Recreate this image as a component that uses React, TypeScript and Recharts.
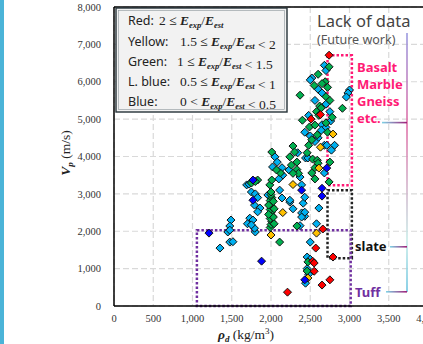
import React from "react";
import {
  ScatterChart,
  Scatter,
  XAxis,
  YAxis,
  CartesianGrid,
  ReferenceArea,
  ReferenceLine,
} from "recharts";

// axis ticks
const xTicks = [0, 500, 1000, 1500, 2000, 2500, 3000, 3500, 4000];
const yTicks = [0, 1000, 2000, 3000, 4000, 5000, 6000, 7000, 8000];

// [rho_d (kg/m3), Vp (m/s)], grouped by Eexp/Eest class
const redPoints = [
  [2210, 370], [2650, 560], [2750, 700], [2530, 1200], [2550, 1150],
  [2550, 930], [2570, 1550], [2790, 1310], [2660, 2060], [2510, 5000],
  [2630, 5120], [2740, 6710],
];

const yellowPoints = [
  [2000, 1900], [2580, 1950], [2470, 750], [2150, 2500], [2280, 3250],
  [2610, 3690], [2630, 4250], [2790, 4600],
];

const greenPoints = [
  [2110, 1710], [2470, 1180], [2460, 935], [2330, 2140],
  [1990, 2100], [2000, 2180], [2010, 2260], [1990, 2340], [2010, 2420],
  [2000, 2500], [1990, 2580], [2010, 2660], [2000, 2740], [1990, 2820],
  [2010, 2900], [2000, 2980], [2000, 3050], [1985, 3240], [2010, 3370],
  [2120, 3560], [2070, 3640], [2010, 4120], [2040, 2200], [2030, 2380],
  [2040, 2600], [2030, 2800], [1970, 2450], [1970, 2700],
  [1830, 3370], [1750, 3290], [1800, 3330], [2280, 4280], [2300, 4120],
  [2240, 3990], [2330, 3850], [2260, 3770], [2330, 3650], [2350, 3550],
  [2280, 3550], [2530, 3930], [2590, 3900], [2520, 3560], [2560, 3700],
  [2750, 3850], [2740, 3320], [2600, 3820], [2560, 3400],
  [2400, 4970], [2490, 4790], [2560, 4840], [2590, 4580], [2520, 4450],
  [2580, 5200], [2620, 5350], [2370, 5640], [2740, 6400], [2690, 6000],
  [2720, 5850], [2650, 5950], [2600, 6200], [2700, 5600], [2750, 5500],
  [2610, 5100], [2910, 5290], [2780, 5050], [2550, 5900], [2640, 5300],
  [2480, 4300], [2460, 4100], [2700, 4900], [2720, 4650],
];

const lightBluePoints = [
  [1350, 1550], [1475, 1710], [1515, 1720], [1450, 1980], [1800, 1980],
  [2500, 1710], [2460, 1310], [2500, 1250], [2440, 610], [2460, 1000],
  [2480, 850], [1490, 2300], [1475, 2140], [1475, 2030], [1730, 2350],
  [1770, 2300], [1790, 2080], [1700, 2200], [1750, 2170], [1690, 3240],
  [1720, 3260], [1750, 3050], [1800, 3000], [1790, 2700], [1860, 2620],
  [1830, 2900], [1830, 2520], [1960, 2970], [2050, 3990], [2080, 3850],
  [2020, 3720], [2140, 3700], [2110, 3100], [2140, 2890], [2240, 2780],
  [2280, 2600], [2240, 2830], [2390, 2490], [2430, 2400], [2410, 2750],
  [2430, 2510], [2390, 2380], [2370, 2150], [2610, 2620], [2580, 2200],
  [2390, 3240], [2430, 2910], [2230, 3640], [2370, 3450], [2340, 4100],
  [2440, 3960], [2470, 3960], [2680, 3560], [2150, 3500], [2100, 3400],
  [2480, 5100], [2430, 4650], [2500, 4550], [2600, 4500], [2680, 4300],
  [2710, 4300], [2810, 4300], [2770, 4170], [2650, 4850], [2700, 4780],
  [2640, 4700], [2520, 6100], [2500, 6050], [2680, 6440], [2700, 6300],
  [2600, 5800], [2650, 5700], [2560, 5500], [2700, 5400], [2750, 5200],
  [3000, 5780], [2980, 5700], [2960, 5590], [2760, 4950], [2560, 4400],
];

const bluePoints = [
  [1210, 1950], [1880, 1200], [2430, 700], [1770, 3370], [1770, 2830],
  [2390, 3100], [2650, 3150], [2650, 2940], [2710, 3690],
];

const toRows = (pts: number[][]) => pts.map(([x, y]) => ({ x, y }));

const fmt = (v: number) => v.toLocaleString("en-US");

const diamond = (fill: string) => (props: any) => {
  const { cx, cy } = props;
  if (cx == null || cy == null) return <g />;
  const r = 4;
  return (
    <polygon
      points={`${cx},${cy - r} ${cx + r},${cy} ${cx},${cy + r} ${cx - r},${cy}`}
      fill={fill}
      stroke="#111"
      strokeWidth={1}
    />
  );
};

const tickStyle = { fontFamily: "Liberation Serif", fontSize: 10.5, fill: "#333" };

// E_exp / E_est in serif bold italic
const Ratio = () => (
  <>
    <tspan fontWeight="bold" fontStyle="italic">E</tspan>
    <tspan fontWeight="bold" fontStyle="italic" fontSize={8.5} dy={3}>exp</tspan>
    <tspan dy={-3}>/</tspan>
    <tspan fontWeight="bold" fontStyle="italic">E</tspan>
    <tspan fontWeight="bold" fontStyle="italic" fontSize={8.5} dy={3}>est</tspan>
    <tspan dy={-3}></tspan>
  </>
);

const sans = "Noto Sans";
const serif = "Liberation Serif";

export default function App() {
  return (
    <div
      style={{
        position: "absolute",
        left: 0,
        top: 0,
        width: 423,
        height: 344,
        overflow: "hidden",
        background: "#fff",
      }}
    >
      <div style={{ position: "absolute", left: 0, top: 0, width: 4, height: 344, background: "#4bb4d8" }} />
      <div style={{ position: "absolute", left: 0, top: 0 }}>
        <ScatterChart width={440} height={344} margin={{ top: 7, right: 12, left: 0, bottom: 8 }}>
          <CartesianGrid stroke="#d9d9d9" strokeDasharray="6 3" strokeWidth={1.2} />
          <XAxis
            type="number"
            dataKey="x"
            domain={[0, 4000]}
            ticks={xTicks}
            tickFormatter={fmt}
            tick={tickStyle}
            tickLine={false}
            tickSize={0}
            tickMargin={9}
            height={30}
            axisLine={{ stroke: "#000", strokeWidth: 1.5 }}
            interval={0}
          />
          <YAxis
            type="number"
            dataKey="y"
            domain={[0, 8000]}
            ticks={yTicks}
            tickFormatter={fmt}
            tick={tickStyle}
            tickLine={false}
            tickSize={0}
            tickMargin={13}
            width={114}
            axisLine={{ stroke: "#000", strokeWidth: 1.5 }}
            interval={0}
          />
          <ReferenceLine y={8000} stroke="#000" strokeWidth={1.5} />
          <Scatter data={toRows(lightBluePoints)} shape={diamond("#00b0f0")} isAnimationActive={false} />
          <Scatter data={toRows(greenPoints)} shape={diamond("#00b050")} isAnimationActive={false} />
          <Scatter data={toRows(yellowPoints)} shape={diamond("#ffc000")} isAnimationActive={false} />
          <Scatter data={toRows(bluePoints)} shape={diamond("#0000ff")} isAnimationActive={false} />
          <Scatter data={toRows(redPoints)} shape={diamond("#ff0000")} isAnimationActive={false} />
          {/* rock-type boxes */}
          <ReferenceArea x1={2720} x2={3030} y1={3230} y2={6710} fill="none" fillOpacity={0}
            stroke="#ff1a75" strokeWidth={2.5} strokeDasharray="2.5 2" ifOverflow="visible" />
          <ReferenceArea x1={2720} x2={3030} y1={1280} y2={3100} fill="none" fillOpacity={0}
            stroke="#222" strokeWidth={2.5} strokeDasharray="2.5 2" ifOverflow="visible" />
          <ReferenceArea x1={1056} x2={3015} y1={0} y2={2030} fill="none" fillOpacity={0}
            stroke="#7030a0" strokeWidth={2.5} strokeDasharray="2.5 2" ifOverflow="visible" />
        </ScatterChart>
      </div>

      <svg width={423} height={344} style={{ position: "absolute", left: 0, top: 0, pointerEvents: "none" }}>
        <defs>
          <linearGradient id="vbar" x1="0" y1="0" x2="0" y2="1">
            <stop offset="0" stopColor="#9b9be0" />
            <stop offset="0.35" stopColor="#e070a8" />
            <stop offset="0.8" stopColor="#c8ece8" />
            <stop offset="1" stopColor="#6cc4e0" />
          </linearGradient>
          <linearGradient id="hbar" x1="0" y1="0" x2="1" y2="0">
            <stop offset="0" stopColor="#7fd4e6" />
            <stop offset="1" stopColor="#a01e78" />
          </linearGradient>
        </defs>

        {/* legend box */}
        <rect x={116} y={8} width={171} height={104} fill="#f2f2f2" stroke="#263238" strokeWidth={1.4} />
        <rect x={118.5} y={10.5} width={166} height={99} fill="none" stroke="#8a9499" strokeWidth={0.6} />
        <g fontSize={12.5} fill="#222">
          <text x={128} y={25} fontFamily={sans}>Red:</text>
          <text x={159} y={25} fontFamily={serif} fontSize={13.5}>2 ≤ <Ratio /></text>
          <text x={128} y={46} fontFamily={sans}>Yellow:</text>
          <text x={180} y={46} fontFamily={serif} fontSize={13.5}>1.5 ≤ <Ratio /> &lt; 2</text>
          <text x={128} y={66} fontFamily={sans}>Green:</text>
          <text x={177} y={66} fontFamily={serif} fontSize={13.5}>1 ≤ <Ratio /> &lt; 1.5</text>
          <text x={128} y={86} fontFamily={sans}>L. blue:</text>
          <text x={180} y={86} fontFamily={serif} fontSize={13.5}>0.5 ≤ <Ratio /> &lt; 1</text>
          <text x={128} y={106} fontFamily={sans}>Blue:</text>
          <text x={180} y={106} fontFamily={serif} fontSize={13.5}>0 &lt; <Ratio /> &lt; 0.5</text>
        </g>

        {/* lack of data note */}
        <text x={317} y={27} fontFamily={sans} fontSize={16.5} fill="#444">Lack of data</text>
        <text x={317} y={44} fontFamily={sans} fontSize={12.5} fill="#555">(Future work)</text>

        {/* bracket */}
        <rect x={406.2} y={33} width={1.6} height={259} fill="url(#vbar)" />
        <rect x={382} y={121.8} width={25} height={1.6} fill="url(#hbar)" />
        <rect x={390} y={246} width={17} height={1.6} fill="url(#hbar)" />
        <rect x={386} y={291} width={21} height={1.6} fill="url(#hbar)" />

        <g fontFamily={sans} fontWeight="bold" fontSize={13}>
          <text x={357} y={72} fill="#ff1a75">Basalt</text>
          <text x={357} y={89} fill="#ff1a75">Marble</text>
          <text x={357} y={106} fill="#ff1a75">Gneiss</text>
          <text x={357} y={123} fill="#ff1a75">etc.</text>
          <text x={355} y={251} fill="#111">slate</text>
          <text x={355} y={297} fill="#7030a0">Tuff</text>
        </g>

        {/* axis titles */}
        <text x={218} y={339} fontFamily={serif} fontSize={13.5} fill="#222">
          <tspan fontWeight="bold" fontStyle="italic">ρ</tspan>
          <tspan fontWeight="bold" fontStyle="italic" fontSize={9} dy={3}>d</tspan>
          <tspan dy={-3}>  (kg/m</tspan>
          <tspan fontSize={9} dy={-5}>3</tspan>
          <tspan dy={5}>)</tspan>
        </text>
        <text transform="translate(70,153) rotate(-90)" textAnchor="middle" fontFamily={serif} fontSize={13.5} fill="#222">
          <tspan fontWeight="bold" fontStyle="italic">V</tspan>
          <tspan fontWeight="bold" fontStyle="italic" fontSize={9} dy={3}>p</tspan>
          <tspan dy={-3}> (m/s)</tspan>
        </text>
      </svg>
    </div>
  );
}
